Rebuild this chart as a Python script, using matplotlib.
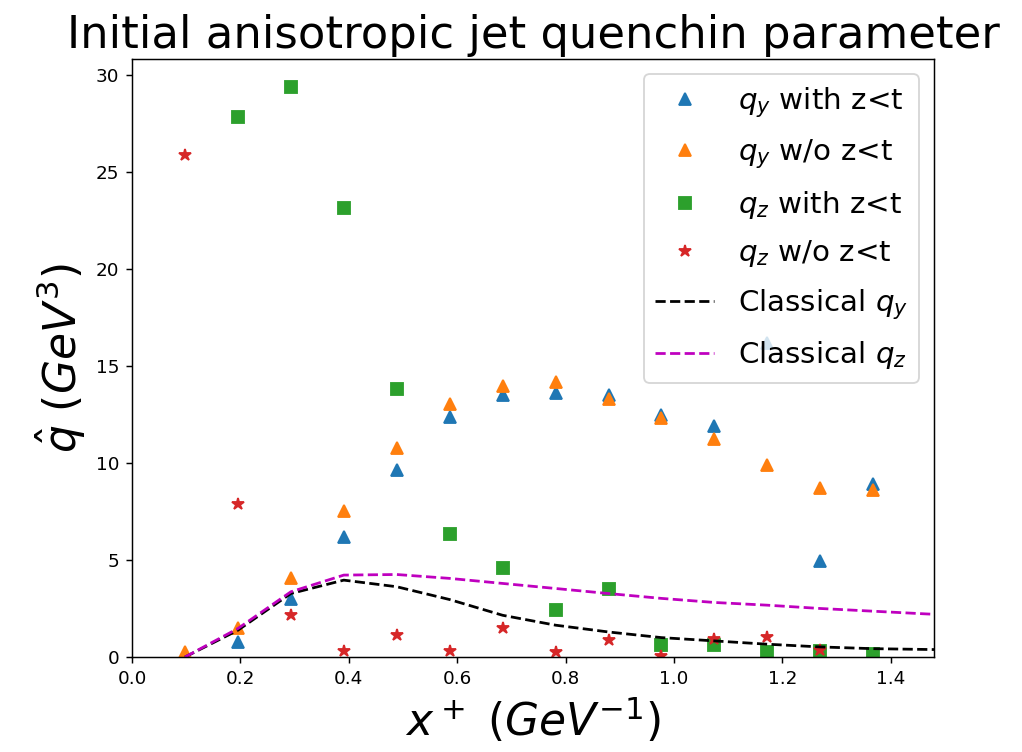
import matplotlib
matplotlib.use("Agg")
import matplotlib.pyplot as plt
import numpy as np

dx = 0.0977  # spacing of the x^+ grid

# anisotropic qhat values on the x^+ grid (index k -> x = k*dx)
k_qy_with = np.arange(2, 15)
qy_with = [0.78, 3.01, 6.20, 9.61, 12.37, 13.52, 13.61, 13.47, 12.48, 11.88, 16.19, 4.96, 8.92]

k_qy_wo = np.arange(1, 15)
qy_wo = [0.26, 1.47, 4.05, 7.53, 10.76, 13.05, 13.95, 14.15, 13.30, 12.31, 11.23, 9.90, 8.70, 8.61]

k_qz_with = np.arange(2, 15)
qz_with = [27.84, 29.36, 23.11, 13.83, 6.32, 4.57, 2.41, 3.48, 0.60, 0.60, 0.26, 0.31, 0.14]

k_qz_wo = np.arange(1, 14)
qz_wo = [25.86, 7.89, 2.15, 0.31, 1.15, 0.31, 1.50, 0.26, 0.90, 0.04, 0.95, 1.03, 0.38]

# classical curves
k_cl = np.arange(1, 17)
classical_qy = [0.0, 1.38, 3.27, 3.96, 3.62, 2.96, 2.15, 1.64, 1.29, 1.00, 0.83, 0.66, 0.52, 0.43, 0.39, 0.36]
classical_qz = [0.0, 1.47, 3.36, 4.22, 4.25, 4.05, 3.79, 3.53, 3.27, 3.02, 2.81, 2.67, 2.50, 2.36, 2.22, 2.10]

dpi = 132
fig = plt.figure(figsize=(1022 / dpi, 752 / dpi), dpi=dpi)
ax = fig.add_axes([0.1292, 0.1263, 0.7847, 0.7952])

ms = 7
ax.plot(k_qy_with * dx, qy_with, '^', color='C0', ms=ms, label=r'$q_y$ with z<t')
ax.plot(k_qy_wo * dx, qy_wo, '^', color='C1', ms=ms, label=r'$q_y$ w/o z<t')
ax.plot(k_qz_with * dx, qz_with, 's', color='C2', ms=ms, label=r'$q_z$ with z<t')
ax.plot(k_qz_wo * dx, qz_wo, '*', color='C3', ms=ms, label=r'$q_z$ w/o z<t')
ax.plot(k_cl * dx, classical_qy, 'k--', label=r'Classical $q_y$')
ax.plot(k_cl * dx, classical_qz, 'm--', label=r'Classical $q_z$')

ax.set_xlim(0, 1.48)
ax.set_ylim(0, 30.8)
ax.set_title('Initial anisotropic jet quenchin parameter', fontsize=24.5)
ax.set_xlabel(r'$x^+$ $(GeV^{-1})$', fontsize=24)
ax.set_ylabel(r'$\hat{q}$ $(GeV^3)$', fontsize=24)
ax.legend(loc='upper right', fontsize=16, labelspacing=0.6)

fig.savefig('out.png', dpi=dpi)
